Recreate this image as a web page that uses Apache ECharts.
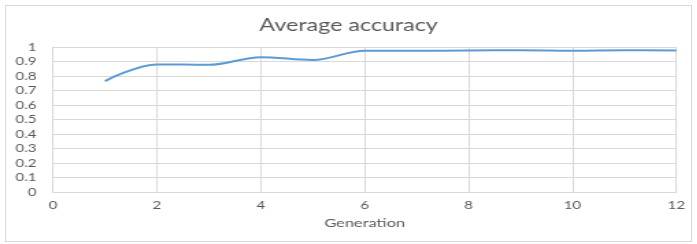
<!DOCTYPE html>
<html lang="en">
<head>
	<meta charset="UTF-8">
	<title>Average accuracy</title>
	<script src="https://cdn.jsdelivr.net/npm/echarts@6/dist/echarts.min.js"></script>
	<style>
		html, body { margin: 0; padding: 0; background: #fff; overflow: hidden; }
		#box {
			position: absolute; left: 5px; top: 5px;
			width: 685px; height: 235px;
			border: 1px solid #d9d9d9;
		}
		/* the original picture is stretched sideways, so draw narrow and widen */
		#chart {
			position: absolute; left: 0; top: 0;
			width: 509px; height: 244px;
			transform: scaleX(1.37); transform-origin: 0 0;
		}
	</style>
</head>
<body>
	<div id="box"></div>
	<div id="chart"></div>
	<script>
		var generations = [1, 2, 3, 4, 5, 6, 7, 8, 9, 10, 11, 12];
		var accuracy = [0.765, 0.88, 0.877, 0.93, 0.91, 0.974, 0.974, 0.976, 0.978, 0.975, 0.978, 0.976];
		var yTicks = [0, 0.1, 0.2, 0.3, 0.4, 0.5, 0.6, 0.7, 0.8, 0.9, 1];

		var myChart = echarts.init(document.getElementById('chart'));
		var font = 'Lato, "Liberation Sans", sans-serif';

		var points = [];
		for (var i = 0; i < generations.length; i++) {
			points.push([generations[i], accuracy[i]]);
		}

		var option = {
			animation: false,
			title: {
				text: 'Average accuracy',
				left: 'center',
				top: 12,
				textStyle: { color: '#595959', fontFamily: font, fontSize: 17, fontWeight: 'normal' }
			},
			grid: { left: 38.7, right: 15.3, top: 47, bottom: 52 },
			xAxis: {
				type: 'value',
				min: 0, max: 12, interval: 2,
				name: 'Generation',
				nameLocation: 'middle',
				nameGap: 25,
				nameTextStyle: { color: '#595959', fontFamily: font, fontSize: 12 },
				axisLine: { show: true, lineStyle: { color: '#d9d9d9', width: 1 } },
				axisTick: { show: false },
				axisLabel: { color: '#595959', fontFamily: font, fontSize: 11, margin: 8 },
				splitLine: { show: true, lineStyle: { color: '#d9d9d9', width: 1 } }
			},
			yAxis: {
				type: 'value',
				min: 0, max: 1, interval: 0.1,
				axisLine: { show: true, lineStyle: { color: '#d9d9d9', width: 1 } },
				axisTick: { show: false },
				axisLabel: {
					color: '#595959', fontFamily: font, fontSize: 11, margin: 12,
					formatter: function (v) {
						var t = Math.round(v * 10) / 10;
						return yTicks.indexOf(t) >= 0 ? String(t) : '';
					}
				},
				splitLine: { show: true, lineStyle: { color: '#d9d9d9', width: 1 } }
			},
			series: [{
				type: 'line',
				data: points,
				smooth: 0.35,
				showSymbol: false,
				lineStyle: { color: '#5b9bd5', width: 2 }
			}]
		};
		myChart.setOption(option);
	</script>
</body>
</html>
